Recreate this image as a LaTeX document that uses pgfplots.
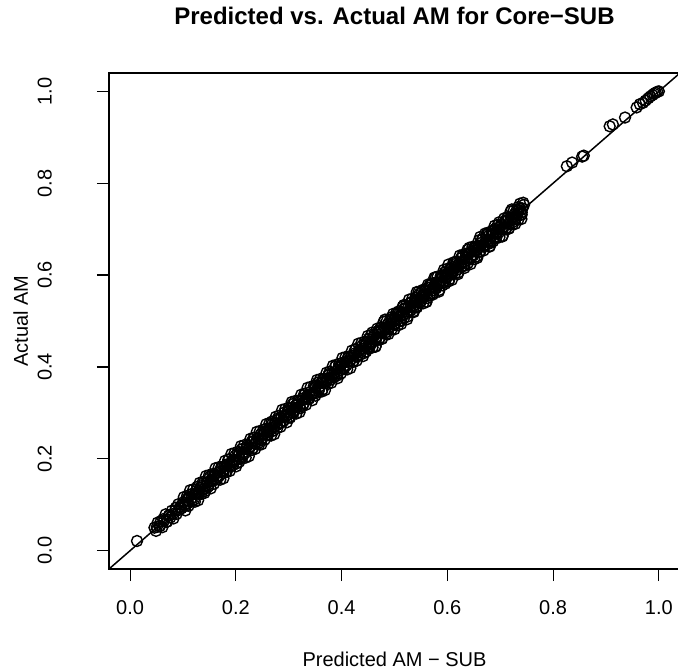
\documentclass[border=0pt]{standalone}
\usepackage{fontspec}
\setmainfont{Liberation Sans}
\usepackage{pgfplots}
\pgfplotsset{compat=1.18}
\usepackage{pgfplotstable}

\pgfplotstableread{
x y
0.013 0.021
0.046 0.050
0.049 0.043
0.052 0.061
0.055 0.053
0.058 0.064
0.061 0.051
0.064 0.065
0.067 0.079
0.070 0.063
0.073 0.076
0.076 0.072
0.079 0.087
0.082 0.070
0.085 0.087
0.088 0.080
0.091 0.101
0.094 0.094
0.097 0.092
0.100 0.105
0.103 0.100
0.106 0.110
0.109 0.103
0.112 0.121
0.115 0.113
0.118 0.124
0.121 0.111
0.124 0.125
0.127 0.139
0.130 0.123
0.133 0.136
0.136 0.132
0.139 0.147
0.142 0.130
0.145 0.147
0.148 0.140
0.151 0.161
0.154 0.154
0.157 0.152
0.160 0.165
0.163 0.160
0.166 0.170
0.169 0.163
0.172 0.181
0.175 0.173
0.178 0.184
0.181 0.171
0.184 0.185
0.187 0.199
0.190 0.183
0.193 0.196
0.196 0.192
0.199 0.207
0.202 0.190
0.205 0.207
0.208 0.200
0.211 0.221
0.214 0.214
0.217 0.212
0.220 0.225
0.223 0.220
0.226 0.223
0.229 0.236
0.232 0.223
0.235 0.246
0.238 0.237
0.241 0.245
0.244 0.231
0.247 0.253
0.250 0.245
0.253 0.255
0.256 0.265
0.259 0.252
0.262 0.265
0.265 0.263
0.268 0.281
0.271 0.261
0.274 0.279
0.277 0.273
0.280 0.288
0.283 0.277
0.286 0.290
0.289 0.283
0.292 0.301
0.295 0.293
0.298 0.304
0.301 0.291
0.304 0.305
0.307 0.319
0.310 0.303
0.313 0.316
0.316 0.312
0.319 0.327
0.322 0.310
0.325 0.327
0.328 0.320
0.331 0.341
0.334 0.334
0.337 0.332
0.340 0.345
0.343 0.340
0.346 0.343
0.349 0.356
0.352 0.343
0.355 0.366
0.358 0.357
0.361 0.365
0.364 0.351
0.367 0.373
0.370 0.365
0.373 0.375
0.376 0.385
0.379 0.372
0.382 0.385
0.385 0.383
0.388 0.401
0.391 0.381
0.394 0.399
0.397 0.393
0.400 0.408
0.403 0.397
0.406 0.410
0.409 0.403
0.412 0.421
0.415 0.413
0.418 0.424
0.421 0.411
0.424 0.425
0.427 0.439
0.430 0.423
0.433 0.436
0.436 0.432
0.439 0.447
0.442 0.430
0.445 0.447
0.448 0.440
0.451 0.461
0.454 0.454
0.457 0.452
0.460 0.465
0.463 0.460
0.466 0.463
0.469 0.476
0.472 0.463
0.475 0.486
0.478 0.477
0.481 0.485
0.484 0.471
0.487 0.493
0.490 0.485
0.493 0.495
0.496 0.505
0.499 0.492
0.502 0.505
0.505 0.503
0.508 0.521
0.511 0.501
0.514 0.519
0.517 0.513
0.520 0.528
0.523 0.517
0.526 0.530
0.529 0.523
0.532 0.541
0.535 0.533
0.538 0.544
0.541 0.531
0.544 0.545
0.547 0.559
0.550 0.543
0.553 0.556
0.556 0.552
0.559 0.567
0.562 0.550
0.565 0.567
0.568 0.560
0.571 0.581
0.574 0.574
0.577 0.572
0.580 0.585
0.583 0.580
0.586 0.583
0.589 0.596
0.592 0.583
0.595 0.606
0.598 0.597
0.601 0.605
0.604 0.591
0.607 0.613
0.610 0.605
0.613 0.615
0.616 0.625
0.619 0.612
0.622 0.625
0.625 0.623
0.628 0.641
0.631 0.621
0.634 0.639
0.637 0.633
0.640 0.648
0.643 0.637
0.646 0.650
0.649 0.643
0.652 0.661
0.655 0.653
0.658 0.664
0.661 0.651
0.664 0.665
0.667 0.679
0.670 0.663
0.673 0.676
0.676 0.672
0.679 0.687
0.682 0.670
0.685 0.687
0.688 0.680
0.691 0.701
0.694 0.694
0.697 0.692
0.700 0.705
0.703 0.700
0.706 0.703
0.709 0.716
0.712 0.703
0.715 0.726
0.718 0.717
0.721 0.725
0.724 0.711
0.727 0.733
0.730 0.725
0.733 0.735
0.736 0.745
0.739 0.732
0.742 0.745
0.745 0.753
0.826 0.837
0.836 0.845
0.855 0.858
0.858 0.860
0.907 0.924
0.913 0.928
0.936 0.943
0.958 0.965
0.964 0.972
0.970 0.975
0.975 0.980
0.980 0.985
0.984 0.989
0.988 0.992
0.991 0.995
0.994 0.997
0.997 0.999
1.000 1.000
}\amdata

\pgfplotsset{pts/.style={only marks, mark=o, mark size=5.5bp, black,
    mark options={line width=1.4bp}}}

\begin{document}
\begin{tikzpicture}
\begin{axis}[
    name=ax,
    scale only axis,
    width=571bp, height=496bp,
    xmin=-0.04, xmax=1.04,
    ymin=-0.04, ymax=1.04,
    xtick={0,0.2,0.4,0.6,0.8,1},
    ytick={0,0.2,0.4,0.6,0.8,1},
    xticklabels={0.0,0.2,0.4,0.6,0.8,1.0},
    yticklabels={0.0,0.2,0.4,0.6,0.8,1.0},
    tick align=outside,
    xtick pos=left, ytick pos=left,
    major tick length=12bp,
    tick style={black, line width=1.2bp},
    axis line style={line width=1.5bp},
    ticklabel style={font=\fontsize{20bp}{24bp}\selectfont, inner sep=0pt},
    xticklabel style={anchor=north, yshift=-19bp},
    yticklabel style={xshift=-45bp, rotate=90, anchor=south},
    title={Predicted vs. Actual AM for Core−SUB},
    title style={at={([yshift=43bp]rel axis cs:0.5,1)}, anchor=base, inner sep=0pt,
        font=\bfseries\fontsize{24bp}{28bp}\selectfont},
    xlabel={Predicted AM − SUB},
    xlabel style={at={([yshift=-97bp]rel axis cs:0.5,0)}, anchor=base, inner sep=0pt,
        font=\fontsize{20bp}{24bp}\selectfont},
    ylabel={Actual AM},
    ylabel style={at={([xshift=-81bp]rel axis cs:0,0.5)}, anchor=base, inner sep=0pt,
        font=\fontsize{20bp}{24bp}\selectfont},
]
\addplot[pts] table {\amdata};
% wider scatter around the line
\addplot[pts] coordinates {
(0.1015,0.1165)(0.1045,0.0875)(0.1075,0.1185)(0.1105,0.0975)(0.1135,0.1315)(0.1165,0.1075)(0.1195,0.1335)(0.1225,0.1065)
(0.1255,0.1335)(0.1285,0.1095)(0.1315,0.1475)(0.1345,0.1235)(0.1375,0.1495)(0.1405,0.1255)(0.1435,0.1625)(0.1465,0.1385)
(0.1495,0.1645)(0.1525,0.1355)(0.1555,0.1665)(0.1585,0.1455)(0.1615,0.1795)(0.1645,0.1555)(0.1675,0.1815)(0.1705,0.1545)
(0.1735,0.1815)(0.1765,0.1575)(0.1795,0.1955)(0.1825,0.1715)(0.1855,0.1975)(0.1885,0.1735)(0.1915,0.2105)(0.1945,0.1865)
(0.1975,0.2125)(0.2005,0.1835)(0.2035,0.2145)(0.2065,0.1935)(0.2095,0.2275)(0.2125,0.2035)(0.2155,0.2295)(0.2185,0.2025)
(0.2215,0.2295)(0.2245,0.2055)(0.2275,0.2435)(0.2305,0.2195)(0.2335,0.2455)(0.2365,0.2215)(0.2395,0.2585)(0.2425,0.2345)
(0.2455,0.2605)(0.2485,0.2315)(0.2515,0.2625)(0.2545,0.2415)(0.2575,0.2755)(0.2605,0.2515)(0.2635,0.2775)(0.2665,0.2505)
(0.2695,0.2775)(0.2725,0.2535)(0.2755,0.2915)(0.2785,0.2675)(0.2815,0.2935)(0.2845,0.2695)(0.2875,0.3065)(0.2905,0.2825)
(0.2935,0.3085)(0.2965,0.2795)(0.2995,0.3105)(0.3025,0.2895)(0.3055,0.3235)(0.3085,0.2995)(0.3115,0.3255)(0.3145,0.2985)
(0.3175,0.3255)(0.3205,0.3015)(0.3235,0.3395)(0.3265,0.3155)(0.3295,0.3415)(0.3325,0.3175)(0.3355,0.3545)(0.3385,0.3305)
(0.3415,0.3565)(0.3445,0.3275)(0.3475,0.3585)(0.3505,0.3375)(0.3535,0.3715)(0.3565,0.3475)(0.3595,0.3735)(0.3625,0.3465)
(0.3655,0.3735)(0.3685,0.3495)(0.3715,0.3875)(0.3745,0.3635)(0.3775,0.3895)(0.3805,0.3655)(0.3835,0.4025)(0.3865,0.3785)
(0.3895,0.4045)(0.3925,0.3755)(0.3955,0.4065)(0.3985,0.3855)(0.4015,0.4195)(0.4045,0.3955)(0.4075,0.4215)(0.4105,0.3945)
(0.4135,0.4215)(0.4165,0.3975)(0.4195,0.4355)(0.4225,0.4115)(0.4255,0.4375)(0.4285,0.4135)(0.4315,0.4505)(0.4345,0.4265)
(0.4375,0.4525)(0.4405,0.4235)(0.4435,0.4545)(0.4465,0.4335)(0.4495,0.4675)(0.4525,0.4435)(0.4555,0.4695)(0.4585,0.4425)
(0.4615,0.4695)(0.4645,0.4455)(0.4675,0.4835)(0.4705,0.4595)(0.4735,0.4855)(0.4765,0.4615)(0.4795,0.4985)(0.4825,0.4745)
(0.4855,0.5005)(0.4885,0.4715)(0.4915,0.5025)(0.4945,0.4815)(0.4975,0.5155)(0.5005,0.4915)(0.5035,0.5175)(0.5065,0.4905)
(0.5095,0.5175)(0.5125,0.4935)(0.5155,0.5315)(0.5185,0.5075)(0.5215,0.5335)(0.5245,0.5095)(0.5275,0.5465)(0.5305,0.5225)
(0.5335,0.5485)(0.5365,0.5195)(0.5395,0.5505)(0.5425,0.5295)(0.5455,0.5635)(0.5485,0.5395)(0.5515,0.5655)(0.5545,0.5385)
(0.5575,0.5655)(0.5605,0.5415)(0.5635,0.5795)(0.5665,0.5555)(0.5695,0.5815)(0.5725,0.5575)(0.5755,0.5945)(0.5785,0.5705)
(0.5815,0.5965)(0.5845,0.5675)(0.5875,0.5985)(0.5905,0.5775)(0.5935,0.6115)(0.5965,0.5875)(0.5995,0.6135)(0.6025,0.5865)
(0.6055,0.6135)(0.6085,0.5895)(0.6115,0.6275)(0.6145,0.6035)(0.6175,0.6295)(0.6205,0.6055)(0.6235,0.6425)(0.6265,0.6185)
(0.6295,0.6445)(0.6325,0.6155)(0.6355,0.6465)(0.6385,0.6255)(0.6415,0.6595)(0.6445,0.6355)(0.6475,0.6615)(0.6505,0.6345)
(0.6535,0.6615)(0.6565,0.6375)(0.6595,0.6755)(0.6625,0.6515)(0.6655,0.6775)(0.6685,0.6535)(0.6715,0.6905)(0.6745,0.6665)
(0.6775,0.6925)(0.6805,0.6635)(0.6835,0.6945)(0.6865,0.6735)(0.6895,0.7075)(0.6925,0.6835)(0.6955,0.7095)(0.6985,0.6825)
(0.7015,0.7095)(0.7045,0.6855)(0.7075,0.7235)(0.7105,0.6995)(0.7135,0.7255)(0.7165,0.7015)(0.7195,0.7385)(0.7225,0.7145)
(0.7255,0.7405)(0.7285,0.7115)(0.7315,0.7425)(0.7345,0.7215)(0.7375,0.7555)(0.7405,0.7315)(0.7435,0.7575)
};
% points close to the line
\addplot[pts] coordinates {
(0.0505,0.0515)(0.0565,0.0535)(0.0625,0.0685)(0.0685,0.0625)(0.0745,0.0775)(0.0805,0.0795)
(0.0865,0.0935)(0.0925,0.0885)(0.0985,0.1005)(0.1045,0.0975)(0.1105,0.1155)(0.1165,0.1145)
(0.1225,0.1235)(0.1285,0.1255)(0.1345,0.1405)(0.1405,0.1345)(0.1465,0.1495)(0.1525,0.1515)
(0.1585,0.1655)(0.1645,0.1605)(0.1705,0.1725)(0.1765,0.1695)(0.1825,0.1875)(0.1885,0.1865)
(0.1945,0.1955)(0.2005,0.1975)(0.2065,0.2125)(0.2125,0.2065)(0.2185,0.2215)(0.2245,0.2235)
(0.2305,0.2375)(0.2365,0.2325)(0.2425,0.2445)(0.2485,0.2415)(0.2545,0.2595)(0.2605,0.2585)
(0.2665,0.2675)(0.2725,0.2695)(0.2785,0.2845)(0.2845,0.2785)(0.2905,0.2935)(0.2965,0.2955)
(0.3025,0.3095)(0.3085,0.3045)(0.3145,0.3165)(0.3205,0.3135)(0.3265,0.3315)(0.3325,0.3305)
(0.3385,0.3395)(0.3445,0.3415)(0.3505,0.3565)(0.3565,0.3505)(0.3625,0.3655)(0.3685,0.3675)
(0.3745,0.3815)(0.3805,0.3765)(0.3865,0.3885)(0.3925,0.3855)(0.3985,0.4035)(0.4045,0.4025)
(0.4105,0.4115)(0.4165,0.4135)(0.4225,0.4285)(0.4285,0.4225)(0.4345,0.4375)(0.4405,0.4395)
(0.4465,0.4535)(0.4525,0.4485)(0.4585,0.4605)(0.4645,0.4575)(0.4705,0.4755)(0.4765,0.4745)
(0.4825,0.4835)(0.4885,0.4855)(0.4945,0.5005)(0.5005,0.4945)(0.5065,0.5095)(0.5125,0.5115)
(0.5185,0.5255)(0.5245,0.5205)(0.5305,0.5325)(0.5365,0.5295)(0.5425,0.5475)(0.5485,0.5465)
(0.5545,0.5555)(0.5605,0.5575)(0.5665,0.5725)(0.5725,0.5665)(0.5785,0.5815)(0.5845,0.5835)
(0.5905,0.5975)(0.5965,0.5925)(0.6025,0.6045)(0.6085,0.6015)(0.6145,0.6195)(0.6205,0.6185)
(0.6265,0.6275)(0.6325,0.6295)(0.6385,0.6445)(0.6445,0.6385)(0.6505,0.6535)(0.6565,0.6555)
(0.6625,0.6695)(0.6685,0.6645)(0.6745,0.6765)(0.6805,0.6735)(0.6865,0.6915)(0.6925,0.6905)
(0.6985,0.6995)(0.7045,0.7015)(0.7105,0.7165)(0.7165,0.7105)(0.7225,0.7255)(0.7285,0.7275)
(0.7345,0.7415)(0.7405,0.7365)
};
% the thicker upper part of the band
\addplot[pts] coordinates {
(0.452,0.440)(0.458,0.475)(0.464,0.444)(0.470,0.479)(0.476,0.461)(0.482,0.503)(0.488,0.482)(0.494,0.508)(0.500,0.482)(0.506,0.517)
(0.512,0.500)(0.518,0.535)(0.524,0.504)(0.530,0.539)(0.536,0.521)(0.542,0.563)(0.548,0.542)(0.554,0.568)(0.560,0.542)(0.566,0.577)
(0.572,0.560)(0.578,0.595)(0.584,0.564)(0.590,0.599)(0.596,0.581)(0.602,0.623)(0.608,0.602)(0.614,0.628)(0.620,0.602)(0.626,0.637)
(0.632,0.620)(0.638,0.655)(0.644,0.624)(0.650,0.659)(0.656,0.641)(0.662,0.683)(0.668,0.662)(0.674,0.688)(0.680,0.662)(0.686,0.697)
(0.692,0.680)(0.698,0.715)(0.704,0.684)(0.710,0.719)(0.716,0.701)(0.722,0.743)(0.728,0.722)(0.734,0.748)(0.740,0.722)
};
\addplot[black, line width=1.5bp] coordinates {(-0.04,-0.04) (1.04,1.04)};
\end{axis}
\pgfresetboundingbox
\useasboundingbox ([shift={(-109bp,-102bp)}]ax.south west) rectangle ([shift={(569bp,73bp)}]ax.north west);
\end{tikzpicture}
\end{document}
